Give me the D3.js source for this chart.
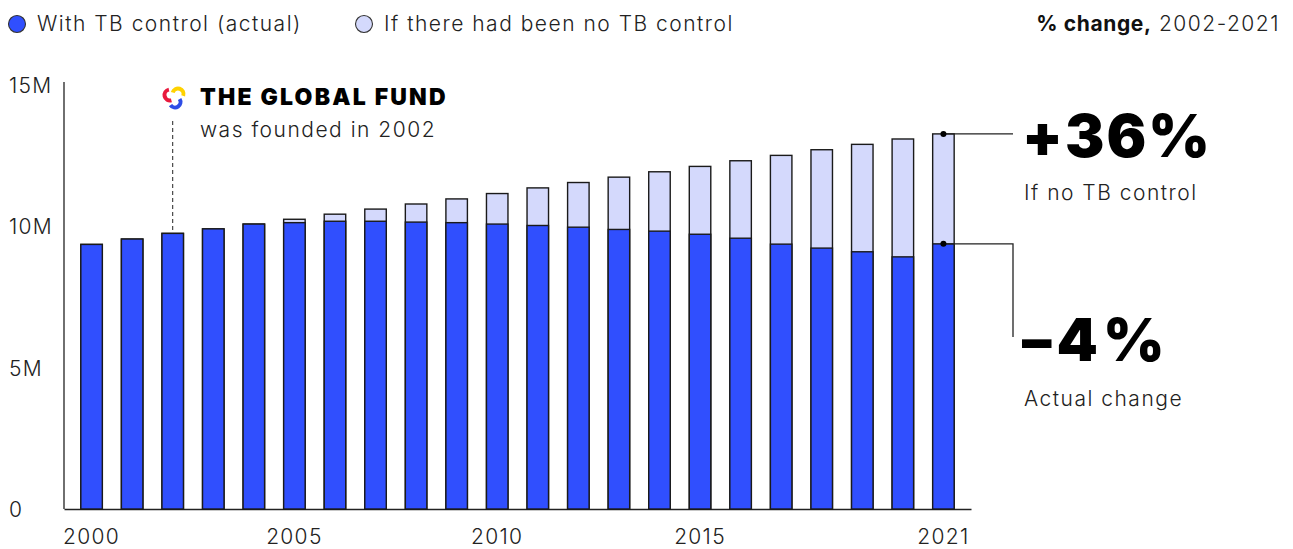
<!DOCTYPE html>
<html>
<head>
<meta charset="utf-8">
<script src="https://cdn.jsdelivr.net/npm/d3@7"></script>
<style>
  body { margin: 0; background: #fff; }
  svg { font-family: Inter, "Noto Sans", sans-serif; }
  .axis text { font-family: Inter, sans-serif; font-size: 21px; font-weight: 300; letter-spacing: 1.3px; fill: #222; }
  .axis path { stroke: #222; stroke-width: 1.3; }
  .lbl { font-size: 21px; font-weight: 300; letter-spacing: 1.5px; fill: #222; }
</style>
</head>
<body>
<svg width="1293" height="549"></svg>
<script>
// tuberculosis incidence, millions
const years = [2000, 2001, 2002, 2003, 2004, 2005, 2006, 2007, 2008, 2009, 2010,
  2011, 2012, 2013, 2014, 2015, 2016, 2017, 2018, 2019, 2020, 2021];
const actual = [9.36, 9.55, 9.75, 9.91, 10.08, 10.13, 10.18, 10.18, 10.15, 10.13, 10.08,
  10.03, 9.97, 9.89, 9.83, 9.72, 9.58, 9.37, 9.23, 9.10, 8.92, 9.38];
const noControl = [9.36, 9.55, 9.75, 9.91, 10.08, 10.25, 10.43, 10.61, 10.79, 10.97, 11.16,
  11.36, 11.55, 11.74, 11.93, 12.12, 12.32, 12.51, 12.71, 12.90, 13.09, 13.27];
const yTicks = [0, 5, 10, 15];
const xTicks = [2000, 2005, 2010, 2015, 2021];

const blue = "#304ffe";
const light = "#d4d9fc";
const dark = "#1a1a1a";

const svg = d3.select("svg");

const x = d3.scaleBand()
  .domain(years)
  .range([64, 971])
  .paddingInner(0.47)
  .paddingOuter(0.415);

const y = d3.scaleLinear()
  .domain([0, 15])
  .range([509, 85]);

// axes
svg.append("g")
  .attr("class", "axis")
  .attr("transform", "translate(64,0)")
  .call(d3.axisLeft(y).tickValues(yTicks).tickFormat(d => d === 0 ? "0" : d + "M").tickSize(0).tickSizeOuter(0))
  .call(g => g.select(".domain").attr("d", `M0,${y(0)}V82`))
  .call(g => g.selectAll("text").attr("text-anchor", "start").attr("x", -55).attr("dy", "0.35em"));

svg.append("g")
  .attr("class", "axis")
  .attr("transform", `translate(0,${y(0)})`)
  .call(d3.axisBottom(x).tickValues(xTicks).tickSize(0).tickSizeOuter(0))
  .call(g => g.selectAll("text").attr("dy", "1.1em").attr("y", 12));

// bars: full height "no control" behind, actual on top
const bars = svg.append("g");

bars.selectAll("rect.total")
  .data(years)
  .join("rect")
  .attr("class", "total")
  .attr("x", d => x(d))
  .attr("width", x.bandwidth())
  .attr("y", (d, i) => y(noControl[i]))
  .attr("height", (d, i) => y(0) - y(noControl[i]))
  .attr("fill", light)
  .attr("stroke", dark)
  .attr("stroke-width", 1.4);

bars.selectAll("rect.actual")
  .data(years)
  .join("rect")
  .attr("class", "actual")
  .attr("x", d => x(d))
  .attr("width", x.bandwidth())
  .attr("y", (d, i) => y(actual[i]))
  .attr("height", (d, i) => y(0) - y(actual[i]))
  .attr("fill", blue)
  .attr("stroke", dark)
  .attr("stroke-width", 1.4);

// legend
const legend = [
  { label: "With TB control (actual)", color: blue, x: 17 },
  { label: "If there had been no TB control", color: light, x: 364 }
];
const lg = svg.append("g").selectAll("g").data(legend).join("g")
  .attr("transform", d => `translate(${d.x},24)`);
lg.append("circle").attr("r", 8.5).attr("fill", d => d.color).attr("stroke", "#333").attr("stroke-width", 1.1);
lg.append("text").attr("class", "lbl").attr("x", 20).attr("dy", "0.35em").text(d => d.label);

const head = svg.append("text")
  .attr("class", "lbl")
  .attr("x", 1280).attr("y", 24).attr("dy", "0.35em")
  .attr("text-anchor", "end");
head.append("tspan").style("font-weight", 700).style("letter-spacing", "0.6px").attr("fill", "#111").text("% change,");
head.append("tspan").text(" 2002-2021");

// Global Fund annotation
const fx = x(2002) + x.bandwidth() / 2;
svg.append("line")
  .attr("x1", fx).attr("x2", fx)
  .attr("y1", 121).attr("y2", y(actual[2]))
  .attr("stroke", "#222").attr("stroke-width", 1)
  .attr("stroke-dasharray", "4,3");

// logo: three swooshes in a spiral
const logo = svg.append("g").attr("transform", "translate(174,97)");
const swoosh = d3.arc().innerRadius(3.5).outerRadius(7.5);
[
  { c: "#e8193c", dx: -4, dy: -2, a0: -0.2, a1: -3.4 },
  { c: "#ffd200", dx: 4, dy: -3, a0: -1.3, a1: 1.9 },
  { c: "#2e4de6", dx: 1, dy: 5, a0: 1.0, a1: 4.1 }
].forEach(s => {
  logo.append("path")
    .attr("transform", `translate(${s.dx},${s.dy})`)
    .attr("d", swoosh({ startAngle: Math.min(s.a0, s.a1), endAngle: Math.max(s.a0, s.a1) }))
    .attr("fill", s.c);
});

svg.append("text")
  .attr("x", 200).attr("y", 105)
  .style("font-size", "23px").style("font-weight", 900).style("letter-spacing", "2.2px")
  .attr("fill", "#000")
  .text("THE GLOBAL FUND");
svg.append("text")
  .attr("class", "lbl")
  .attr("x", 200).attr("y", 137)
  .text("was founded in 2002");

// right-hand change callouts
const lx = x(2021) + x.bandwidth() / 2;
const yTop = y(noControl[noControl.length - 1]);
const yAct = y(actual[actual.length - 1]);
svg.append("path")
  .attr("d", `M${lx},${yTop}H1013`)
  .attr("fill", "none").attr("stroke", "#222").attr("stroke-width", 1.3);
svg.append("path")
  .attr("d", `M${lx},${yAct}H1013V337`)
  .attr("fill", "none").attr("stroke", "#222").attr("stroke-width", 1.3);
svg.selectAll("circle.dot")
  .data([yTop, yAct])
  .join("circle")
  .attr("class", "dot")
  .attr("cx", lx).attr("cy", d => d)
  .attr("r", 3).attr("fill", "#000");

const callouts = [
  { big: "+36%", small: "If no TB control", y: 157, sy: 200, ls: 2 },
  { big: "\u20134%", small: "Actual change", y: 361, sy: 406, ls: 5 }
];
const co = svg.append("g").selectAll("g").data(callouts).join("g");
co.append("text")
  .attr("x", 1022).attr("y", d => d.y)
  .style("font-size", "59px").style("font-weight", 900).style("letter-spacing", d => d.ls + "px")
  .attr("fill", "#000")
  .text(d => d.big);
co.append("text")
  .attr("class", "lbl")
  .attr("x", 1024).attr("y", d => d.sy)
  .text(d => d.small);
</script>
</body>
</html>
